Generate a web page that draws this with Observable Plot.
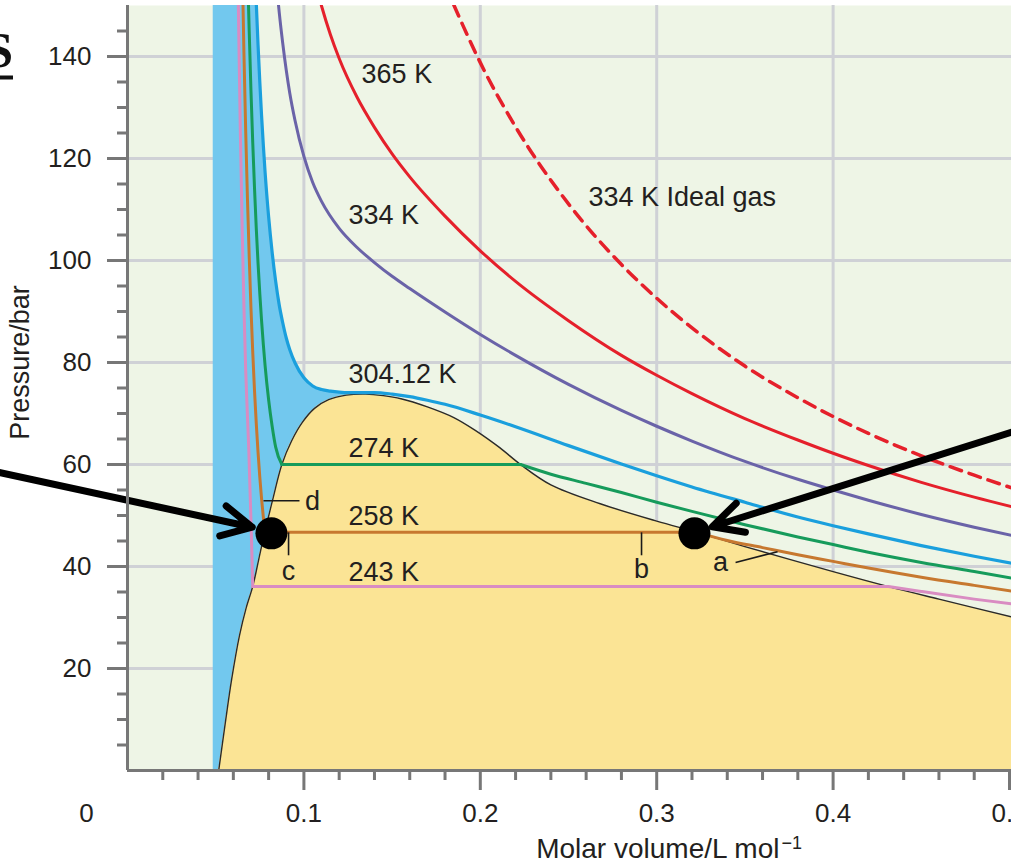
<!DOCTYPE html>
<html>
<head>
<meta charset="utf-8">
<script src="https://cdn.jsdelivr.net/npm/d3@7"></script>
<script src="https://cdn.jsdelivr.net/npm/@observablehq/plot@0.6"></script>
<style>
  body { margin: 0; background: #fff; }
  #chart { position: relative; width: 1011px; height: 867px; overflow: hidden; }
</style>
</head>
<body>
<div id="chart"></div>
<script>
// ---------- data (molar volume V in L/mol, pressure P in bar) ----------
const iso365V = [0.108,0.11,0.115,0.12,0.13,0.14,0.15,0.16,0.18,0.2,0.22,0.25,0.28,0.30,0.32,0.35,0.38,0.40,0.42,0.45,0.48,0.505];
const iso365P = [152.4,149.9,144.3,139.6,132.1,126.1,120.9,116.4,108.7,101.9,95.9,88.2,81.4,77.5,73.9,69.0,64.8,62.2,59.8,56.5,53.6,51.4];

const iso334V = [0.085,0.086,0.088,0.09,0.092,0.095,0.10,0.105,0.11,0.12,0.13,0.14,0.15,0.16,0.18,0.2,0.22,0.25,0.28,0.30,0.32,0.35,0.38,0.40,0.42,0.45,0.48,0.505];
const iso334P = [152.2,148.7,142.6,137.3,132.8,127.4,120.4,115.3,111.6,106.3,102.6,99.6,96.9,94.5,89.9,85.5,81.4,75.7,70.6,67.5,64.6,60.6,57.1,55.0,53.0,50.2,47.7,45.8];

const ideal334V = [0.185,0.19,0.2,0.22,0.25,0.28,0.30,0.32,0.35,0.38,0.40,0.42,0.45,0.48,0.505];
const ideal334P = [150.1,146.2,138.8,126.2,111.1,99.2,92.6,86.8,79.3,73.1,69.4,66.1,61.7,57.9,55.0];

const iso304V = [0.073,0.074,0.075,0.076,0.077,0.078,0.080,0.082,0.084,0.086,0.088,0.09,0.092,0.095,0.10,0.105,0.11,0.115,0.12,0.125,0.13,0.14,0.15,0.16,0.17,0.18,0.2,0.22,0.25,0.28,0.30,0.32,0.35,0.38,0.40,0.42,0.45,0.48,0.505];
const iso304P = [150.5,142.3,135.0,128.4,122.6,117.3,108.6,101.6,95.9,91.3,87.8,84.8,82.5,79.9,77.0,75.4,74.7,74.4,74.2,74.1,74.1,74.1,73.8,73.3,72.6,71.8,69.7,67.4,63.7,60.1,57.8,55.6,52.6,49.7,48.0,46.4,44.1,42.0,40.4];

const iso274LeftV = [0.0685,0.069,0.070,0.071,0.072,0.073,0.074,0.075,0.076,0.078,0.080,0.082,0.084,0.0875];
const iso274LeftP = [151.3,144.9,133.2,123.1,114.2,106.3,99.5,93.5,88.2,79.4,72.7,67.5,63.4,60];
const iso274RightV = [0.2228,0.24,0.26,0.28,0.30,0.32,0.35,0.38,0.40,0.42,0.45,0.48,0.505];
const iso274RightP = [60,58.1,56.3,54.5,52.6,50.8,48.2,45.8,44.3,42.8,40.8,39.0,37.5];

const iso258LeftV = [0.065,0.066,0.067,0.068,0.069,0.070,0.071,0.072,0.073,0.074,0.075,0.076,0.077,0.0778];
const iso258LeftP = [158.7,140.8,125.4,112.1,100.7,90.6,82.0,74.5,68.0,62.4,57.5,53.3,49.7,46.7];
const iso258RightV = [0.323,0.34,0.36,0.38,0.40,0.42,0.45,0.48,0.505];
const iso258RightP = [46.7,45.1,43.7,42.3,41.0,39.7,37.9,36.3,35.0];

const iso243LeftV = [0.0625,0.063,0.064,0.065,0.066,0.067,0.068,0.0688,0.0694,0.0701,0.0710];
const iso243LeftP = [158.3,146.2,124.7,106.5,90.9,78.5,69.5,62.5,55.6,47.7,36.1];
const iso243RightV = [0.431,0.45,0.48,0.505];
const iso243RightP = [36.1,35.1,33.6,32.5];

const domeV = [0.0517,0.0553,0.0591,0.0635,0.0672,0.0710,0.0744,0.0778,0.0826,0.0875,0.093,0.099,0.106,0.114,0.124,0.135,0.145,0.155,0.17,0.185,0.198,0.211,0.2228,0.24,0.268,0.30,0.323,0.35,0.40,0.431,0.46,0.505];
const domeP = [0,9,18,26.5,31.8,36.1,41.4,46.7,53.5,60,64.6,68.2,71.0,72.7,73.6,73.8,73.5,72.9,71.3,69.2,66.5,63.3,60,56.0,52.3,48.9,46.7,43.9,39.0,36.1,33.6,29.8];
const liquidLimitV = 0.0486;
const domePeakV = 0.135;

const isoLabelText = ["365 K","334 K","334 K Ideal gas","304.12 K","274 K","258 K","243 K"];
const isoLabelV = [0.1327,0.1253,0.2613,0.1253,0.1253,0.1253,0.1253];
const isoLabelP = [136.5,108.8,112.4,77.6,63.1,49.8,38.8];

const pointText = ["d","c","b","a"];
const pointTextV = [0.1049,0.0913,0.2914,0.3362];
const pointTextP = [52.7,39.1,39.4,40.9];
const pointerV1 = [0.0771,0.0913,0.2914,0.3447];
const pointerP1 = [52.9,46.7,46.7,40.8];
const pointerV2 = [0.0975,0.0913,0.2914,0.3685];
const pointerP2 = [52.9,42.2,42.2,42.9];

const dotV = [0.0816,0.3214];
const dotP = [46.5,46.5];

const arrowV1 = [-0.0777,0.5119];
const arrowP1 = [58.8,67.5];
const arrowV2 = [0.0707,0.3315];
const arrowP2 = [47.7,47.8];

const xMajor = [0.1,0.2,0.3,0.4,0.5];
const xMinor = [0.02,0.04,0.06,0.08,0.12,0.14,0.16,0.18,0.22,0.24,0.26,0.28,0.32,0.34,0.36,0.38,0.42,0.44,0.46,0.48];
const yMajor = [20,40,60,80,100,120,140];
const yMinor = [5,10,15,25,30,35,45,50,55,65,70,75,85,90,95,105,110,115,125,130,135,145];
const xGrid = [0.1,0.2,0.3,0.4];

const yTitle = "Pressure/bar";
const xTitle = "Molar volume/L mol";
const xTitleSup = "\u22121";
const originLabel = "0";

// ---------- build tables ----------
const rows = (V, P) => V.map((v, i) => ({V: v, P: P[i]}));
function isoRows(name, lV, lP, rV, rP) {
  const out = [];
  lV.forEach((v, i) => out.push({V: v, P: lP[i], seg: name + "L"}));
  out.push({V: lV[lV.length - 1], P: lP[lP.length - 1], seg: name + "T"});
  out.push({V: rV[0], P: rP[0], seg: name + "T"});
  rV.forEach((v, i) => out.push({V: v, P: rP[i], seg: name + "R"}));
  return out;
}
const dome = rows(domeV, domeP);
const blueRows = [];
domeV.forEach((v, i) => { if (v <= domePeakV) blueRows.push({P: domeP[i], V1: liquidLimitV, V2: v}); });
for (let i = iso304V.length - 1; i >= 0; i--) if (iso304V[i] < domePeakV) blueRows.push({P: iso304P[i], V1: liquidLimitV, V2: iso304V[i]});

const isoLabels = isoLabelText.map((t, i) => ({t, V: isoLabelV[i], P: isoLabelP[i]}));
const letters = pointText.map((t, i) => ({t, V: pointTextV[i], P: pointTextP[i]}));
const pointers = pointerV1.map((v, i) => ({V1: v, P1: pointerP1[i], V2: pointerV2[i], P2: pointerP2[i]}));
const dots = rows(dotV, dotP);
const arrows = arrowV1.map((v, i) => ({V1: v, P1: arrowP1[i], V2: arrowV2[i], P2: arrowP2[i]}));

const axisGray = "#777777";
const textColor = "#231f20";
const font = "'Liberation Sans', Arial, sans-serif";

const chart = Plot.plot({
  width: 1011,
  height: 867,
  marginLeft: 127,
  marginRight: 0,
  marginTop: 5,
  marginBottom: 97,
  x: {domain: [0, 0.50113], label: null},
  y: {domain: [0, 150], label: null},
  style: {fontFamily: font, color: textColor, background: "white", overflow: "visible"},
  marks: [
    Plot.frame({fill: "#eef5e6", stroke: "none"}),
    Plot.ruleX(xGrid, {stroke: "#cfd1d6", strokeWidth: 3}),
    Plot.ruleY(yMajor, {stroke: "#cfd1d6", strokeWidth: 3}),
    Plot.areaX(blueRows, {y: "P", x1: "V1", x2: "V2", fill: "#72c8ee", curve: "catmull-rom", clip: true}),
    Plot.areaY(dome, {x: "V", y: "P", fill: "#fbe495", curve: "catmull-rom", clip: true}),
    Plot.line(dome, {x: "V", y: "P", stroke: "#2a2a2a", strokeWidth: 1.4, curve: "catmull-rom", clip: true}),
    Plot.line(rows(ideal334V, ideal334P), {x: "V", y: "P", stroke: "#e5202b", strokeWidth: 3.5, strokeDasharray: "12,8", curve: "monotone-x", clip: true}),
    Plot.line(rows(iso365V, iso365P), {x: "V", y: "P", stroke: "#e5202b", strokeWidth: 3, curve: "monotone-x", clip: true}),
    Plot.line(rows(iso334V, iso334P), {x: "V", y: "P", stroke: "#6a63a8", strokeWidth: 3, curve: "monotone-x", clip: true}),
    Plot.line(rows(iso304V, iso304P), {x: "V", y: "P", stroke: "#1a9fdd", strokeWidth: 3.2, curve: "monotone-x", clip: true}),
    Plot.line(isoRows("g", iso274LeftV, iso274LeftP, iso274RightV, iso274RightP), {x: "V", y: "P", z: "seg", stroke: "#169b5b", strokeWidth: 3, strokeLinecap: "round", curve: "monotone-x", clip: true}),
    Plot.line(isoRows("o", iso258LeftV, iso258LeftP, iso258RightV, iso258RightP), {x: "V", y: "P", z: "seg", stroke: "#c7782f", strokeWidth: 3, strokeLinecap: "round", curve: "monotone-x", clip: true}),
    Plot.line(isoRows("p", iso243LeftV, iso243LeftP, iso243RightV, iso243RightP), {x: "V", y: "P", z: "seg", stroke: "#d98cc2", strokeWidth: 3, strokeLinecap: "round", curve: "monotone-x", clip: true}),
    Plot.text(isoLabels, {x: "V", y: "P", text: "t", textAnchor: "start", fontSize: 27, fill: textColor}),
    Plot.link(pointers, {x1: "V1", y1: "P1", x2: "V2", y2: "P2", stroke: "#1a1a1a", strokeWidth: 1.6}),
    Plot.text(letters, {x: "V", y: "P", text: "t", fontSize: 27, fill: textColor}),
    Plot.dot(dots, {x: "V", y: "P", r: 16, fill: "black", stroke: "none"}),
    Plot.arrow(arrows, {x1: "V1", y1: "P1", x2: "V2", y2: "P2", stroke: "black", strokeWidth: 7, headLength: 7.2, headAngle: 54, strokeLinecap: "round", strokeLinejoin: "round"}),
    Plot.ruleX([0], {stroke: axisGray, strokeWidth: 3}),
    Plot.ruleY([0], {stroke: axisGray, strokeWidth: 3}),
    Plot.axisY(yMajor, {anchor: "left", tickSize: 20, tickPadding: 16, stroke: axisGray, strokeWidth: 3, fontSize: 26, tickFormat: d => String(d), label: null}),
    Plot.axisY(yMinor, {anchor: "left", tickSize: 10, stroke: axisGray, strokeWidth: 3, tickFormat: () => "", label: null}),
    Plot.axisX(xMajor, {anchor: "bottom", tickSize: 20, tickPadding: 13, stroke: axisGray, strokeWidth: 3, fontSize: 26, tickFormat: d => String(d), label: null}),
    Plot.axisX(xMinor, {anchor: "bottom", tickSize: 10, stroke: axisGray, strokeWidth: 3, tickFormat: () => "", label: null}),
    Plot.text([originLabel], {x: -0.02324, y: -8.43, text: d => d, fontSize: 26, fill: textColor}),
    Plot.text([yTitle], {x: -0.0608, y: 80.0, text: d => d, rotate: -90, fontSize: 27, fill: textColor}),
    Plot.text([xTitle], {x: 0.307, y: -15.4, text: d => d, fontSize: 28, fill: textColor})
  ]
});

// superscript on the x-axis title
d3.select(chart).selectAll("text").filter(function () { return this.textContent === xTitle; })
  .append("tspan").attr("font-size", 18).attr("dy", -9).attr("dx", 2).text(xTitleSup);

// partial underlined heading letter at the top-left corner
const svg = d3.select(chart);
svg.append("text").attr("x", 13).attr("y", 67).attr("text-anchor", "end")
  .attr("font-family", "'Liberation Serif', 'Times New Roman', serif").attr("font-weight", "bold")
  .attr("font-size", 51).attr("fill", "#111").text("S");
svg.append("line").attr("x1", -5).attr("x2", 13).attr("y1", 77.5).attr("y2", 77.5)
  .attr("stroke", "#111").attr("stroke-width", 4);

document.getElementById("chart").appendChild(chart);
</script>
</body>
</html>
